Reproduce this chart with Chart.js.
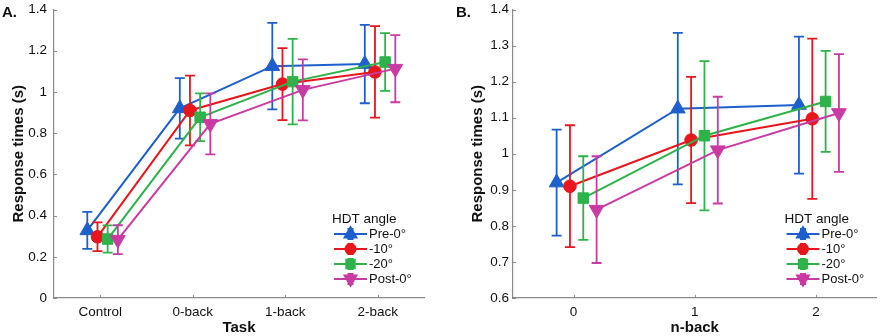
<!DOCTYPE html>
<html>
<head>
<meta charset="utf-8">
<script src="https://cdn.jsdelivr.net/npm/chart.js@4.4.1/dist/chart.umd.min.js"></script>
<style>
body{margin:0;background:#fff;}
#wrap{position:relative;width:886px;height:336px;}
canvas{position:absolute;top:0;}
.tag{position:absolute;top:3px;font:bold 15px "Liberation Sans",Arial,sans-serif;color:#111;}
</style>
</head>
<body>
<div id="wrap">
  <canvas id="chartA" width="443" height="336" style="left:0"></canvas>
  <canvas id="chartB" width="443" height="336" style="left:443px"></canvas>
  <div class="tag" style="left:2px">A.</div>
  <div class="tag" style="left:456px">B.</div>
</div>
<script>
// data: Control, 0-back, 1-back, 2-back
const tasks = ["Control", "0-back", "1-back", "2-back"];
const nback = ["0", "1", "2"];
const groups = ["Pre-0°", "-10°", "-20°", "Post-0°"];

const pre0 = [0.328, 0.920, 1.125, 1.135];
const pre0Err = [0.090, 0.147, 0.210, 0.190];
const minus10 = [0.297, 0.910, 1.038, 1.097];
const minus10Err = [0.070, 0.169, 0.175, 0.222];
const minus20 = [0.286, 0.877, 1.050, 1.145];
const minus20Err = [0.066, 0.116, 0.207, 0.140];
const post0 = [0.283, 0.845, 1.010, 1.113];
const post0Err = [0.070, 0.148, 0.148, 0.163];

const yTicksA = [0, 0.2, 0.4, 0.6, 0.8, 1, 1.2, 1.4];
const yTicksB = [0.6, 0.7, 0.8, 0.9, 1, 1.1, 1.2, 1.3, 1.4];

const means = [pre0, minus10, minus20, post0];
const errs = [pre0Err, minus10Err, minus20Err, post0Err];

// styling
const colors = ["#1d5fcc", "#e8161c", "#2eb24a", "#c93aa2"];
const shapes = ["triangle", "circle", "rect", "triangle"];
const turns = [0, 0, 0, 180];
const sizes = [8.5, 6.3, 7.4, 8.5];
const dodge = [-0.14, -0.03, 0.08, 0.19];
const FONT = '"Liberation Sans", Arial, sans-serif';
const AXIS = "#8a8a8a";

Chart.defaults.font.family = FONT;
Chart.defaults.color = "#111";

const errorBars = {
  id: "errorBars",
  beforeDatasetDraw(chart, args) {
    const ds = chart.data.datasets[args.index];
    const y = chart.scales.y, ctx = chart.ctx;
    ctx.save();
    ctx.strokeStyle = ds.borderColor;
    ctx.lineWidth = 1.8;
    ds.data.forEach((p, i) => {
      const el = args.meta.data[i];
      const top = y.getPixelForValue(p.y + p.e), bot = y.getPixelForValue(p.y - p.e);
      ctx.beginPath();
      ctx.moveTo(el.x, top); ctx.lineTo(el.x, bot);
      ctx.moveTo(el.x - 5, top); ctx.lineTo(el.x + 5, top);
      ctx.moveTo(el.x - 5, bot); ctx.lineTo(el.x + 5, bot);
      ctx.stroke();
    });
    ctx.restore();
  }
};

const extras = {
  id: "extras",
  afterDraw(chart) {
    const ctx = chart.ctx, a = chart.chartArea;
    // inward tick marks
    ctx.save();
    ctx.strokeStyle = AXIS; ctx.lineWidth = 1;
    ctx.beginPath();
    chart.scales.x.ticks.forEach(t => {
      const px = Math.round(chart.scales.x.getPixelForValue(t.value)) + 0.5;
      ctx.moveTo(px, a.bottom); ctx.lineTo(px, a.bottom - 3);
    });
    chart.scales.y.ticks.forEach(t => {
      const py = Math.round(chart.scales.y.getPixelForValue(t.value)) + 0.5;
      ctx.moveTo(a.left, py); ctx.lineTo(a.left + 3, py);
    });
    ctx.stroke();

    // legend with error-bar glyphs
    const x0 = a.right - 90, lineW = 33;
    ctx.font = "13.5px " + FONT;
    ctx.fillStyle = "#111";
    ctx.textBaseline = "middle";
    ctx.fillText("HDT angle", x0 - 2, a.bottom - 79);
    ctx.font = "13px " + FONT;
    chart.data.datasets.forEach((ds, i) => {
      const yy = a.bottom - 64 + i * 15, cx = x0 + lineW / 2;
      ctx.strokeStyle = ds.borderColor; ctx.fillStyle = ds.borderColor;
      ctx.lineWidth = 2;
      ctx.beginPath();
      ctx.moveTo(x0, yy); ctx.lineTo(x0 + lineW, yy);
      ctx.moveTo(cx, yy - 5); ctx.lineTo(cx, yy + 5);
      ctx.moveTo(cx - 3, yy - 5); ctx.lineTo(cx + 3, yy - 5);
      ctx.moveTo(cx - 3, yy + 5); ctx.lineTo(cx + 3, yy + 5);
      ctx.stroke();
      Chart.helpers.drawPoint(ctx, {pointStyle: ds.pointStyle, rotation: ds.pointRotation,
        radius: ds.pointRadius * 0.8, borderWidth: 1}, cx, yy);
      ctx.fillStyle = "#111";
      ctx.fillText(ds.label, x0 + lineW + 2, yy);
    });
    ctx.restore();
  }
};

function makeChart(id, labels, first, xMin, xMax, yTicks, xTitle, yWidth, rightPad, labelPad) {
  const datasets = groups.map((g, s) => ({
    label: g,
    data: labels.map((lab, i) => ({x: xMin + 0.5 + i + dodge[s], y: means[s][first + i], e: errs[s][first + i]})),
    showLine: true,
    borderColor: colors[s],
    backgroundColor: colors[s],
    borderWidth: 2,
    pointStyle: shapes[s],
    pointRotation: turns[s],
    pointRadius: sizes[s],
    pointHoverRadius: sizes[s],
    pointBorderWidth: 1,
    order: 3 - s
  }));
  return new Chart(document.getElementById(id), {
    type: "scatter",
    data: {datasets},
    plugins: [errorBars, extras],
    options: {
      responsive: false,
      animation: false,
      layout: {padding: {left: 0, top: 6, right: rightPad, bottom: 0}},
      plugins: {legend: {display: false}, tooltip: {enabled: false}},
      scales: {
        x: {
          type: "linear", min: xMin, max: xMax,
          grid: {display: false, drawTicks: false},
          border: {display: true, color: AXIS, width: 1.2},
          afterBuildTicks: sc => { sc.ticks = labels.map((l, i) => ({value: xMin + 0.5 + i})); },
          afterFit: sc => { sc.height = 38; sc.paddingLeft = 0; sc.paddingRight = 0; },
          ticks: {color: "#111", font: {size: 13.5}, padding: 6, maxRotation: 0,
            callback: (v, i) => labels[i]},
          title: {display: true, text: xTitle, font: {size: 15, weight: "bold"}, color: "#111",
            padding: {top: 0, bottom: -1}}
        },
        y: {
          min: yTicks[0], max: yTicks[yTicks.length - 1],
          grid: {display: false, drawTicks: false},
          border: {display: true, color: AXIS, width: 1.2},
          afterBuildTicks: sc => { sc.ticks = yTicks.map(v => ({value: v})); },
          afterFit: sc => { sc.width = yWidth; sc.paddingTop = 0; sc.paddingBottom = 0; },
          ticks: {color: "#111", font: {size: 13.5}, padding: labelPad,
            callback: v => String(+v.toFixed(2))},
          title: {display: true, text: "Response times (s)", font: {size: 15, weight: "bold"}, color: "#111",
            padding: {top: yWidth - 54 + 10, bottom: 0}}
        }
      }
    }
  });
}

makeChart("chartA", tasks, 0, 0.5, 4.5, yTicksA, "Task", 54, 19, 7);
makeChart("chartB", nback, 1, -0.5, 2.5, yTicksB, "n-back", 70, 3, 4);
</script>
</body>
</html>
